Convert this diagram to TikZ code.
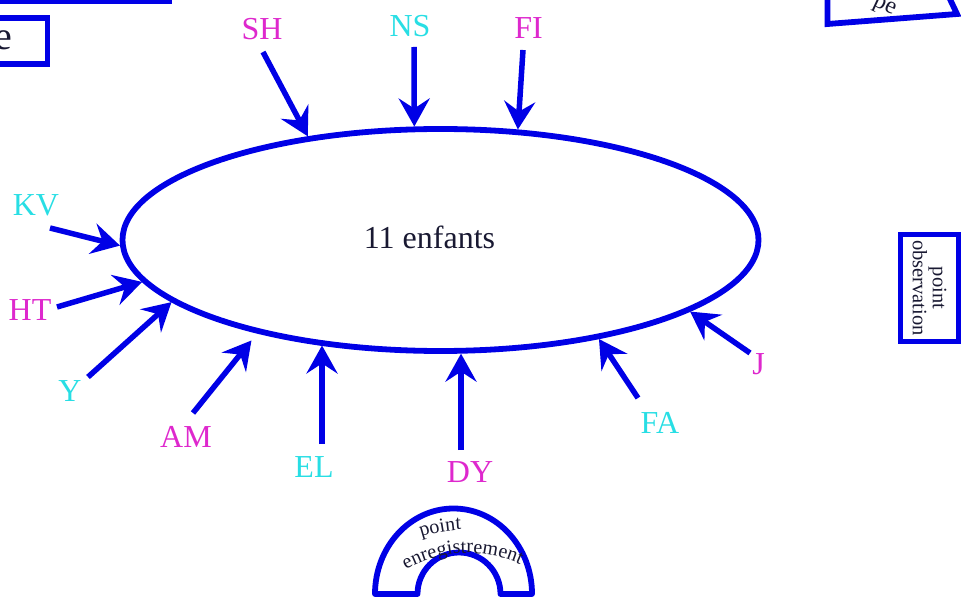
\documentclass[tikz,border=0pt]{standalone}
\usepackage{fontspec}
\setmainfont{Liberation Serif}
\usepackage{tikz}
\usetikzlibrary{arrows.meta,shapes,decorations.text,positioning}
\definecolor{lineblue}{RGB}{0,0,230}
\definecolor{pinklabel}{RGB}{222,40,205}
\definecolor{cyanlabel}{RGB}{40,222,228}
\definecolor{inkdark}{RGB}{25,25,50}

\begin{document}
\begin{tikzpicture}[x=1pt, y=1pt]
% STYLES
\tikzset{%
    kid/.style={%
font=\fontsize{32}{32}\selectfont,
inner sep=0pt
                },
    pink/.style={kid, text=pinklabel},
    aqua/.style={kid, text=cyanlabel},
    link/.style={%
draw=lineblue,
line width=5.5pt,
-{Stealth[length=28pt, width=31pt, inset=10pt]}
                },
    frame/.style={draw=lineblue, line width=5.8pt}
             }
\useasboundingbox (0,0) rectangle (961,598);
\clip (0,0) rectangle (961,598);

% Draw the group
\node [ellipse, frame, minimum width=636pt, minimum height=222pt, inner sep=0pt,
       label={[kid, text=inkdark, xshift=-11pt, yshift=3pt]center:11 enfants}] (enfants) at (440.5,358) {};

% Draw the children
\node [pink] (sh) at (262,569) {SH};
\node [aqua] (ns) at (410,572) {NS};
\node [pink] (fi) at (528.5,570) {FI};
\node [aqua] (kv) at (36,393) {KV};
\node [pink] (ht) at (30,288) {HT};
\node [aqua] (y) at (70,207) {Y};
\node [pink] (am) at (186,161) {AM};
\node [aqua] (el) at (314,131) {EL};
\node [pink] (dy) at (470,125.5) {DY};
\node [aqua] (fa) at (660,175) {FA};
\node [pink] (j) at (758.5,234) {J};

% Arrow tails
\coordinate (sh-t) at (263,546);
\coordinate (ns-t) at (414,551);
\coordinate (fi-t) at (523,548);
\coordinate (kv-t) at (50,370);
\coordinate (ht-t) at (57,291);
\coordinate (y-t) at (88,221);
\coordinate (am-t) at (193,185);
\coordinate (el-t) at (322,154);
\coordinate (dy-t) at (461,148);
\coordinate (fa-t) at (638,200);
\coordinate (j-t) at (750,245);

% Draw the links between children and group
\path
(sh-t) edge[link] (enfants.142)
(ns-t) edge[link] (enfants.103)
(fi-t) edge[link] (enfants.55)
(kv-t) edge[link] (enfants.181)
(ht-t) edge[link] (enfants.188)
(y-t) edge[link] (enfants.193)
(am-t) edge[link, shorten >=9pt] (enfants.207)
(el-t) edge[link] (el-t |- enfants.221)
(dy-t) edge[link] (dy-t |- enfants.281)
(fa-t) edge[link] (enfants.328)
(j-t) edge[link] (enfants.344);

% Boxes at the border
\draw[frame] (-20,597) rectangle (169,650);
\draw[frame] (-60,534) rectangle (47.5,580);
\node [font=\fontsize{40}{40}\selectfont, text=inkdark, anchor=base east, inner sep=0pt] (e) at (12,548) {e};
\draw[frame] (827.5,620) -- (827.5,574) -- (957,584) -- (940,620);
\node [font=\fontsize{24}{24}\selectfont, text=inkdark, rotate=-25, inner sep=0pt] (pe) at (884,591) {pe};
\node [frame, rotate=-90, minimum width=107pt, minimum height=58pt, inner sep=0pt, align=center,
       font=\fontsize{20.5}{20}\selectfont, text=inkdark] (obs) at (929.5,310) {point\\observation};

% Recording point
\draw[frame, line join=round] (375,4) arc[start angle=180, end angle=0, x radius=78.5, y radius=85.5]
  -- (500.5,4) arc[start angle=0, end angle=180, radius=41.5] -- cycle;
\path[decorate, decoration={text along path, text align=center, text color=inkdark,
  text={|\fontsize{20}{20}\selectfont|point}}]
  (468,-81) ++(130.4:149.5) arc[start angle=130.4, end angle=70.4, radius=149.5];
\path[decorate, decoration={text along path, text align=center, text color=inkdark,
  text={|\fontsize{20}{20}\selectfont|enregistrement}}]
  (468,-81) ++(150:126) arc[start angle=150, end angle=35, radius=126];
\end{tikzpicture}
\end{document}
